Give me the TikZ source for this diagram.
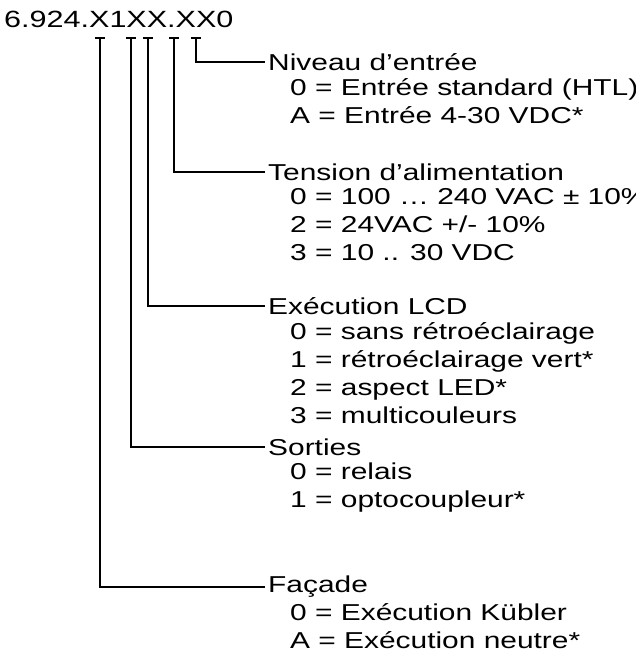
\documentclass[tikz,border=0pt]{standalone}
\usepackage{fontspec}
\setmainfont{Liberation Sans}
\newfontfamily\widefont[FakeStretch=1.3]{Liberation Sans}
\begin{document}
\begin{tikzpicture}[x=1pt,y=-1pt,
  lbl/.style={anchor=west,inner sep=0pt,font=\widefont\fontsize{23}{28}\selectfont,align=left},
  ln/.style={line width=1.4pt}]
\useasboundingbox (0,0) rectangle (635,656);
\node[anchor=base west,inner sep=0pt,font=\widefont\fontsize{23.5}{27}\selectfont] (code) at (4,27) {6.924.X1XX.XX0};
\foreach \x/\y/\n in {100/587/a,131/447/b,148/306/c,174/172/d,196/62/e}{
  \coordinate (t\n) at (\x,38);
  \coordinate (c\n) at (\x,\y);
  \coordinate (e\n) at (265,\y);
  \draw[ln] ([xshift=-5pt]t\n) -- ([xshift=5pt]t\n);
  \draw[ln] (t\n) -- (c\n) -- (e\n);
}
\node[lbl] (ne) at (268,62) {Niveau d’entrée};
\node[lbl,anchor=north west] at (290,78) {0 = Entrée standard (HTL)\\A = Entrée 4-30 VDC*};
\node[lbl] (nd) at (268,172) {Tension d’alimentation};
\node[lbl,anchor=north west] at (290,188) {0 = 100 … 240 VAC ± 10\%\\2 = 24VAC +/- 10\%\\3 = 10 .. 30 VDC};
\node[lbl] (nc) at (268,306) {Exécution LCD};
\node[lbl,anchor=north west] at (290,322) {0 = sans rétroéclairage\\1 = rétroéclairage vert*\\2 = aspect LED*\\3 = multicouleurs};
\node[lbl] (nb) at (268,447) {Sorties};
\node[lbl,anchor=north west] at (290,463) {0 = relais\\1 = optocoupleur*};
\node[lbl] (na) at (268,587) {Façade};
\node[lbl,anchor=north west] at (290,603) {0 = Exécution Kübler\\A = Exécution neutre*};
\end{tikzpicture}
\end{document}
